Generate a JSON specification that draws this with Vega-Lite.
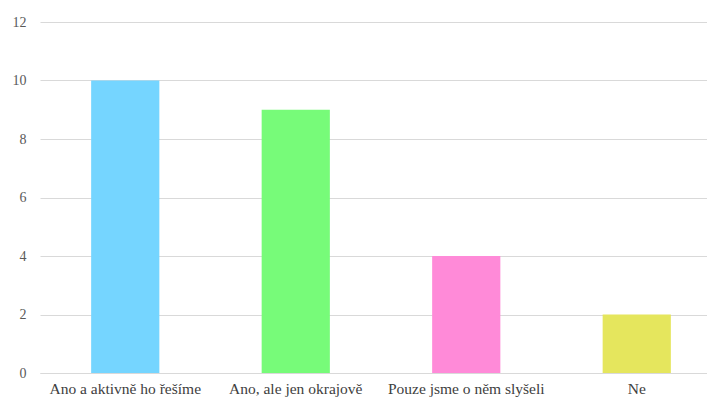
{
  "$schema": "https://vega.github.io/schema/vega-lite/v6.json",
  "autosize": "none",
  "width": 682,
  "height": 351,
  "padding": {"left": 40, "top": 22, "right": 0, "bottom": 26},
  "background": "white",
  "config": {
    "view": {"stroke": null},
    "font": "'Liberation Serif', 'Times New Roman', serif"
  },
  "data": {
    "values": [
      {"odpoved": "Ano a aktivně ho řešíme", "pocet": 10},
      {"odpoved": "Ano, ale jen okrajově", "pocet": 9},
      {"odpoved": "Pouze jsme o něm slyšeli", "pocet": 4},
      {"odpoved": "Ne", "pocet": 2}
    ]
  },
  "mark": {"type": "bar"},
  "encoding": {
    "x": {
      "field": "odpoved",
      "type": "nominal",
      "sort": null,
      "title": null,
      "scale": {"paddingInner": 0.6, "paddingOuter": 0.3},
      "axis": {
        "labelAngle": 0,
        "labelFont": "'Liberation Serif', 'Times New Roman', serif",
        "labelFontSize": 15.5,
        "labelColor": "#404040",
        "labelPadding": 8,
        "domain": true,
        "domainColor": "#d9d9d9",
        "ticks": false
      }
    },
    "y": {
      "field": "pocet",
      "type": "quantitative",
      "title": null,
      "scale": {"domain": [0, 12]},
      "axis": {
        "values": [0, 2, 4, 6, 8, 10, 12],
        "labelFont": "'Liberation Serif', 'Times New Roman', serif",
        "labelFontSize": 14,
        "labelColor": "#595959",
        "labelPadding": 14,
        "domain": false,
        "ticks": false,
        "gridColor": "#d9d9d9",
        "gridWidth": 1
      }
    },
    "color": {
      "field": "odpoved",
      "type": "nominal",
      "sort": null,
      "legend": null,
      "scale": {
        "domain": ["Ano a aktivně ho řešíme", "Ano, ale jen okrajově", "Pouze jsme o něm slyšeli", "Ne"],
        "range": ["#75d5ff", "#77fb79", "#ff8ad8", "#e5e65d"]
      }
    }
  }
}
